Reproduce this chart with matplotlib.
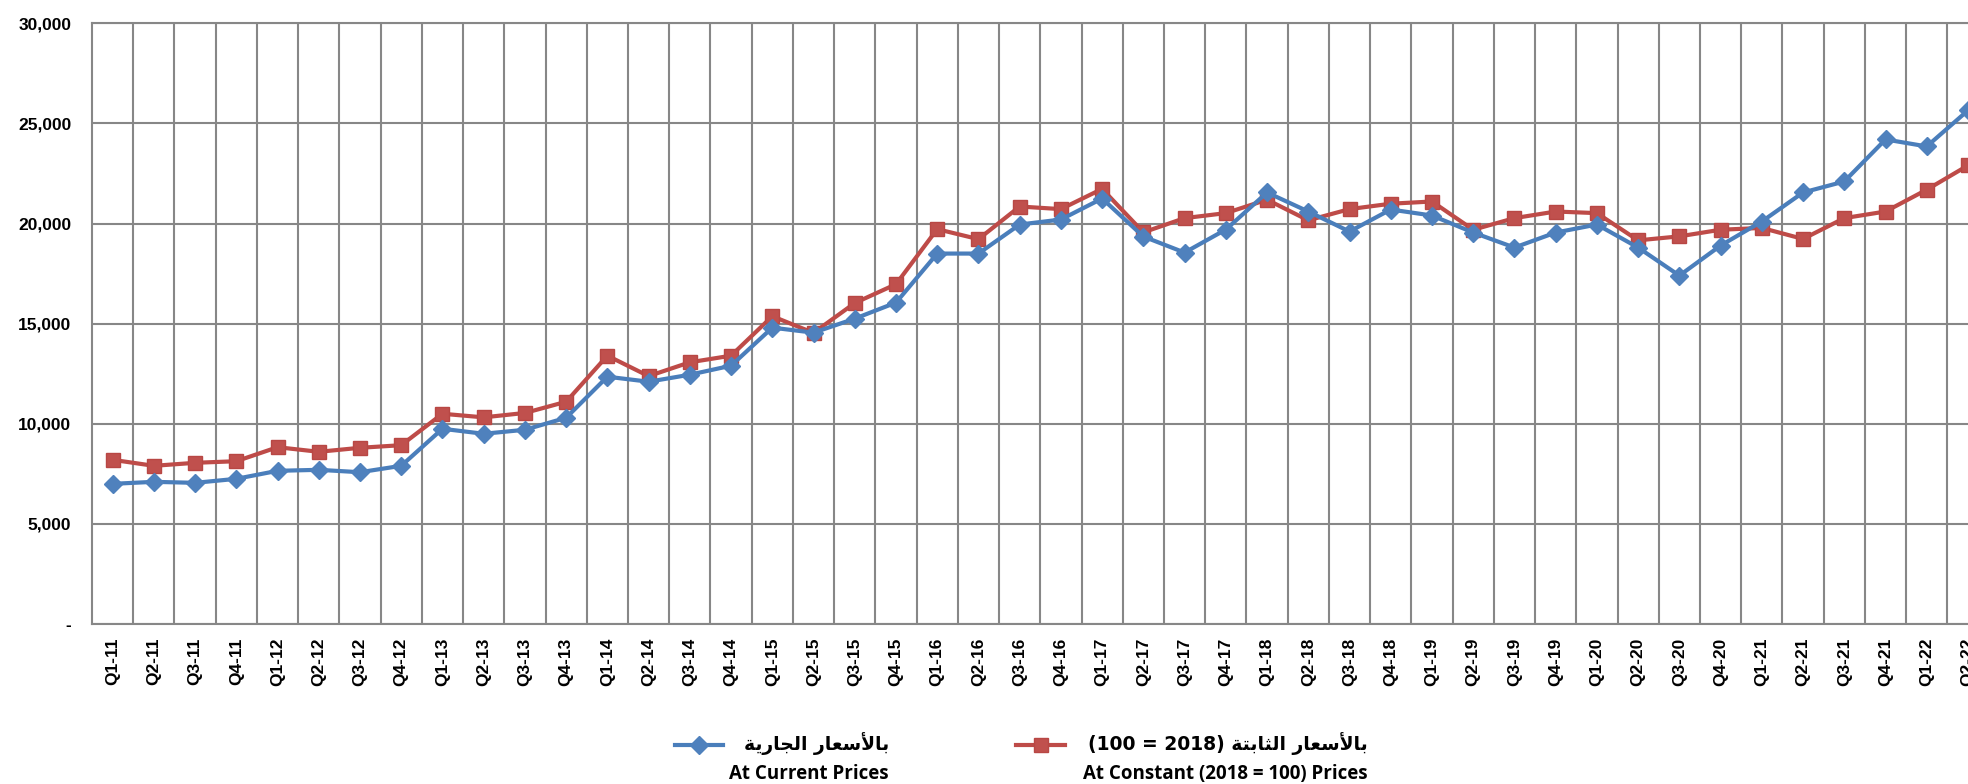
import matplotlib.pyplot as plt
from matplotlib.lines import Line2D
from matplotlib.ticker import FixedLocator, FuncFormatter, MultipleLocator

plt.rcParams["font.family"] = ["Liberation Sans", "DejaVu Sans"]
plt.rcParams["font.weight"] = "bold"

# quarters Q1-11 .. Q2-22
quarters = [f"Q{q}-{y}" for y in range(11, 23) for q in range(1, 5)][:46]

current_prices = [7000, 7100, 7050, 7250, 7650, 7700, 7580, 7900,
                  9750, 9500, 9700, 10300, 12350, 12100, 12450, 12900,
                  14800, 14550, 15250, 16050, 18500, 18500, 19950, 20200,
                  21250, 19350, 18550, 19700, 21550, 20600, 19600, 20700,
                  20400, 19550, 18800, 19550, 19950, 18800, 17400, 18900,
                  20100, 21550, 22100, 24200, 23850, 25650]

constant_prices = [8200, 7900, 8050, 8130, 8830, 8600, 8800, 8930,
                   10500, 10320, 10540, 11100, 13400, 12380, 13070, 13400,
                   15370, 14540, 16030, 16970, 19720, 19220, 20850, 20720,
                   21730, 19560, 20270, 20520, 21190, 20160, 20720, 20990,
                   21100, 19690, 20270, 20600, 20520, 19160, 19360, 19690,
                   19780, 19230, 20270, 20600, 21690, 22900]

# Arabic labels in presentation forms, visual order (matplotlib has no shaping)
ar_word_prices = "\uFEAD\uFE8E\uFECC\uFEB3\uFEF7\uFE8E\uFE91"      # بالأسعار
ar_word_current = "\uFE94\uFEF3\uFEAD\uFE8E\uFEA0\uFEDF\uFE8D"     # الجارية
ar_word_constant = "\uFE94\uFE98\uFE91\uFE8E\uFE9C\uFEDF\uFE8D"    # الثابتة
label_current_ar = ar_word_current + " " + ar_word_prices
label_constant_ar = "(100 = 2018) " + ar_word_constant + " " + ar_word_prices
label_current_en = "At Current Prices"
label_constant_en = "At Constant (2018 = 100) Prices"

blue = "#4A7EBB"
red = "#BE4B48"
grid_col = "#878787"

W, H = 1968, 784
fig = plt.figure(figsize=(W / 100, H / 100), dpi=100)
ax = fig.add_axes([92 / W, 160 / H, 46 * 41.23 / W, 600.7 / H])

x = list(range(len(quarters)))
l1, = ax.plot(x, current_prices, color=blue, lw=3, marker="D", ms=9.5,
              mfc="#4F81BD", mec="#4F81BD", zorder=4)
l2, = ax.plot(x, constant_prices, color=red, lw=3, marker="s", ms=10,
              mfc="#C0504D", mec="#B84744", zorder=3)

ax.set_xlim(-0.5, len(quarters) - 0.5)
ax.set_ylim(0, 30000)
ax.yaxis.set_major_locator(MultipleLocator(5000))
ax.yaxis.set_major_formatter(FuncFormatter(lambda v, p: "-" if v == 0 else f"{v:,.0f}"))
ax.set_xticks(x)
ax.set_xticklabels(quarters, rotation=90)
ax.xaxis.set_minor_locator(FixedLocator([i + 0.5 for i in x]))

ax.grid(axis="y", which="major", color=grid_col, lw=1.5)
ax.grid(axis="x", which="minor", color=grid_col, lw=1.5)
ax.grid(axis="x", which="major", visible=False)
ax.set_axisbelow(True)
ax.tick_params(axis="both", which="both", length=0, labelsize=12.5)
ax.tick_params(axis="y", pad=15)
ax.tick_params(axis="x", pad=10)
for s in ax.spines.values():
    s.set_color(grid_col)
    s.set_linewidth(1.5)

# legend: key on the Arabic line, English line underneath, right aligned
entries = [(l1, 675, 723, 889, label_current_ar, label_current_en),
           (l2, 1016, 1065, 1368, label_constant_ar, label_constant_en)]
for line, x0, x1, xr, ar, en in entries:
    key = Line2D([x0 / W, (x0 + x1) / 2 / W, x1 / W], [39 / H] * 3,
                 transform=fig.transFigure, color=line.get_color(), lw=3,
                 marker=line.get_marker(), ms=line.get_markersize(), markevery=[1],
                 mfc=line.get_markerfacecolor(), mec=line.get_markeredgecolor())
    fig.add_artist(key)
    fig.text(xr / W, 40 / H, ar, ha="right", va="center", fontsize=13.5,
             fontweight="bold", family=["DejaVu Sans"])
    fig.text(xr / W, 10 / H, en, ha="right", va="center", fontsize=13.5,
             fontweight="bold", family=["Open Sans", "DejaVu Sans"])

fig.savefig("out.png", dpi=100)
